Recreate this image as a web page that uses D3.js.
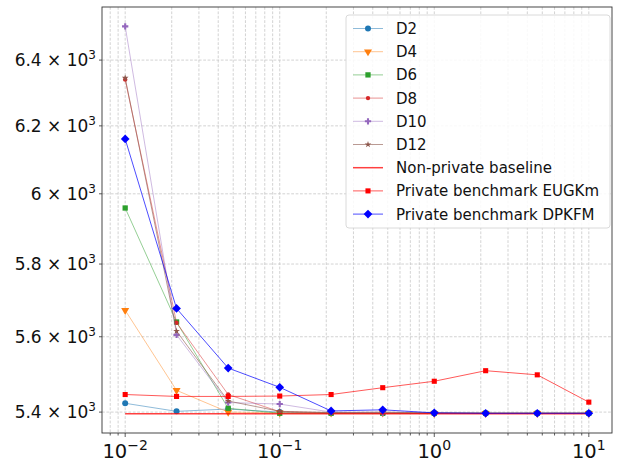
<!DOCTYPE html>
<html>
<head>
<meta charset="utf-8">
<script src="https://cdn.jsdelivr.net/npm/d3@7"></script>
<style>
  body { margin: 0; background: #fff; }
  svg { display: block; font-family: "DejaVu Sans", sans-serif; }
</style>
</head>
<body>
<svg id="chart" width="619" height="464"></svg>
<script>
// Privacy budget values (log-spaced)
const epsilons = [0.01, 0.0215, 0.0464, 0.1, 0.215, 0.464, 1, 2.15, 4.64, 10];

// Cost per configuration
const d2  = [5423, 5402, 5408, 5400, 5397, 5397, 5397, 5397, 5397, 5397];
const d4  = [5672, 5457, 5400, 5398, 5398, 5398, 5397, 5397, 5397, 5397];
const d6  = [5959, 5640, 5410, 5397, 5397, 5397, 5397, 5397, 5397, 5397];
const d8  = [6340, 5638, 5446, 5401, 5398, 5398, 5397, 5397, 5397, 5397];
const d10 = [6505, 5605, 5425, 5421, 5400, 5398, 5397, 5397, 5397, 5397];
const d12 = [6345, 5615, 5429, 5402, 5399, 5400, 5398, 5397, 5397, 5397];
const baseline = [5396, 5396, 5396, 5396, 5396, 5396, 5396, 5396, 5396, 5396];
const eugkm = [5446, 5441, 5441, 5442, 5446, 5464, 5481, 5509, 5498, 5426];
const dpkfm = [6161, 5677, 5516, 5465, 5403, 5406, 5398, 5397, 5397, 5397];

const yTickValues = [5400, 5600, 5800, 6000, 6200, 6400];
const yTickMantissa = ["5.4", "5.6", "5.8", "6", "6.2", "6.4"];
const xTickValues = [0.01, 0.1, 1, 10];
const xTickExponents = ["\u22122", "\u22121", "0", "1"];

const seriesList = [
  { name: "D2",  values: d2,  color: "#1f77b4", symbol: "circle",   size: 28, lineOpacity: 0.5, width: 1 },
  { name: "D4",  values: d4,  color: "#ff7f0e", symbol: "triDown",  size: 28, lineOpacity: 0.45, width: 1 },
  { name: "D6",  values: d6,  color: "#2ca02c", symbol: "square",   size: 28, lineOpacity: 0.5, width: 1 },
  { name: "D8",  values: d8,  color: "#d62728", symbol: "circle",   size: 15, lineOpacity: 0.5, width: 1 },
  { name: "D10", values: d10, color: "#9467bd", symbol: "plus",     size: 22, lineOpacity: 0.45, width: 1 },
  { name: "D12", values: d12, color: "#8c564b", symbol: "star",     size: 14, lineOpacity: 0.6, width: 1 },
  { name: "Non-private baseline", values: baseline, color: "#ff0000", symbol: null, lineOpacity: 0.75, width: 1.5 },
  { name: "Private benchmark EUGKm", values: eugkm, color: "#ff0000", symbol: "square", size: 26, lineOpacity: 0.65, width: 1 },
  { name: "Private benchmark DPKFM", values: dpkfm, color: "#0000ff", symbol: "diamond", size: 38, lineOpacity: 0.7, width: 1 }
];

const svg = d3.select("#chart");
const plot = { left: 102, right: 612, top: 7, bottom: 433 };

// Log scales with 5% padding (in log space) around the data
function paddedLogDomain(vals) {
  const lo = Math.log10(d3.min(vals)), hi = Math.log10(d3.max(vals));
  const pad = (hi - lo) * 0.05;
  return [Math.pow(10, lo - pad), Math.pow(10, hi + pad)];
}
const allY = seriesList.flatMap(s => s.values);
const x = d3.scaleLog().domain(paddedLogDomain(epsilons)).range([plot.left, plot.right]);
const y = d3.scaleLog().domain(paddedLogDomain(allY)).range([plot.bottom, plot.top]);

// Grid: vertical lines at every log step, horizontal at the labelled ticks
const gridG = svg.append("g");
const xMinorTicks = [];
for (let e = -3; e <= 1; e++) for (let m = 1; m <= 9; m++) {
  const v = m * Math.pow(10, e);
  if (v >= x.domain()[0] && v <= x.domain()[1]) xMinorTicks.push(v);
}
gridG.selectAll("line.vx").data(xMinorTicks).join("line")
  .attr("x1", d => x(d)).attr("x2", d => x(d))
  .attr("y1", plot.top).attr("y2", plot.bottom)
  .attr("stroke", "#c8c8c8").attr("stroke-width", 0.8).attr("stroke-dasharray", "2.8,1.6");
gridG.selectAll("line.hy").data(yTickValues).join("line")
  .attr("x1", plot.left).attr("x2", plot.right)
  .attr("y1", d => y(d)).attr("y2", d => y(d))
  .attr("stroke", "#c8c8c8").attr("stroke-width", 0.8).attr("stroke-dasharray", "2.8,1.6");

// Marker shapes
function markerPath(kind, size) {
  switch (kind) {
    case "circle": return d3.symbol(d3.symbolCircle, size)();
    case "triDown": return d3.symbol(d3.symbolTriangle, size)();
    case "square": return d3.symbol(d3.symbolSquare, size)();
    case "plus": return d3.symbol(d3.symbolCross, size)();
    case "star": return d3.symbol(d3.symbolStar, size)();
    case "diamond": return d3.symbol(d3.symbolSquare, size)();
  }
}
function markerRotate(kind) {
  if (kind === "triDown") return 180;
  if (kind === "diamond") return 45;
  return 0;
}

const line = d3.line().x((d, i) => x(epsilons[i])).y(d => y(d));
const dataG = svg.append("g");
seriesList.forEach(s => {
  const g = dataG.append("g");
  g.append("path").datum(s.values)
    .attr("d", line).attr("fill", "none")
    .attr("stroke", s.color).attr("stroke-opacity", s.lineOpacity)
    .attr("stroke-width", s.width);
  if (s.symbol) {
    g.selectAll("path.m").data(s.values).join("path")
      .attr("d", markerPath(s.symbol, s.size))
      .attr("transform", (d, i) => `translate(${x(epsilons[i])},${y(d)}) rotate(${markerRotate(s.symbol)})`)
      .attr("fill", s.color);
  }
});

// Axes frame
svg.append("rect")
  .attr("x", plot.left).attr("y", plot.top)
  .attr("width", plot.right - plot.left).attr("height", plot.bottom - plot.top)
  .attr("fill", "none").attr("stroke", "#333").attr("stroke-width", 0.9);

// X axis ticks and labels
const axisG = svg.append("g");
axisG.selectAll("line.xmin").data(xMinorTicks).join("line")
  .attr("x1", d => x(d)).attr("x2", d => x(d))
  .attr("y1", plot.bottom).attr("y2", d => plot.bottom + (xTickValues.includes(d) ? 4 : 2.5))
  .attr("stroke", "#333").attr("stroke-width", 0.8);
const xLab = axisG.selectAll("text.xl").data(xTickValues).join("text")
  .attr("x", d => x(d)).attr("y", 458)
  .attr("text-anchor", "middle").attr("font-size", 19.5).attr("fill", "#111");
xLab.append("tspan").text("10");
xLab.append("tspan").attr("dy", -8.5).attr("font-size", 14).text((d, i) => xTickExponents[i]);

// Y axis ticks and labels
axisG.selectAll("line.yt").data(yTickValues).join("line")
  .attr("x1", plot.left - 3).attr("x2", plot.left)
  .attr("y1", d => y(d)).attr("y2", d => y(d))
  .attr("stroke", "#333").attr("stroke-width", 0.8);
const yLab = axisG.selectAll("text.yl").data(yTickValues).join("text")
  .attr("x", 96).attr("y", d => y(d) + 6.3)
  .attr("text-anchor", "end").attr("font-size", 17).attr("fill", "#111");
yLab.append("tspan").text((d, i) => yTickMantissa[i] + " \u00d7 10");
yLab.append("tspan").attr("dy", -7.5).attr("font-size", 12).text("3");

// Legend
const legend = svg.append("g");
legend.append("rect")
  .attr("x", 346).attr("y", 15).attr("width", 264).attr("height", 213)
  .attr("rx", 3).attr("fill", "#fff").attr("fill-opacity", 0.85)
  .attr("stroke", "#d6d6d6").attr("stroke-width", 0.9);
seriesList.forEach((s, i) => {
  const cy = 28.5 + i * 23.2;
  const row = legend.append("g");
  row.append("line").attr("x1", 353).attr("x2", 383).attr("y1", cy).attr("y2", cy)
    .attr("stroke", s.color).attr("stroke-opacity", s.lineOpacity).attr("stroke-width", s.width);
  if (s.symbol) {
    row.append("path").attr("d", markerPath(s.symbol, s.size))
      .attr("transform", `translate(368,${cy}) rotate(${markerRotate(s.symbol)})`)
      .attr("fill", s.color);
  }
  row.append("text").attr("x", 396).attr("y", cy + 5.5)
    .attr("font-size", 15).attr("fill", "#111").text(s.name);
});
</script>
</body>
</html>
